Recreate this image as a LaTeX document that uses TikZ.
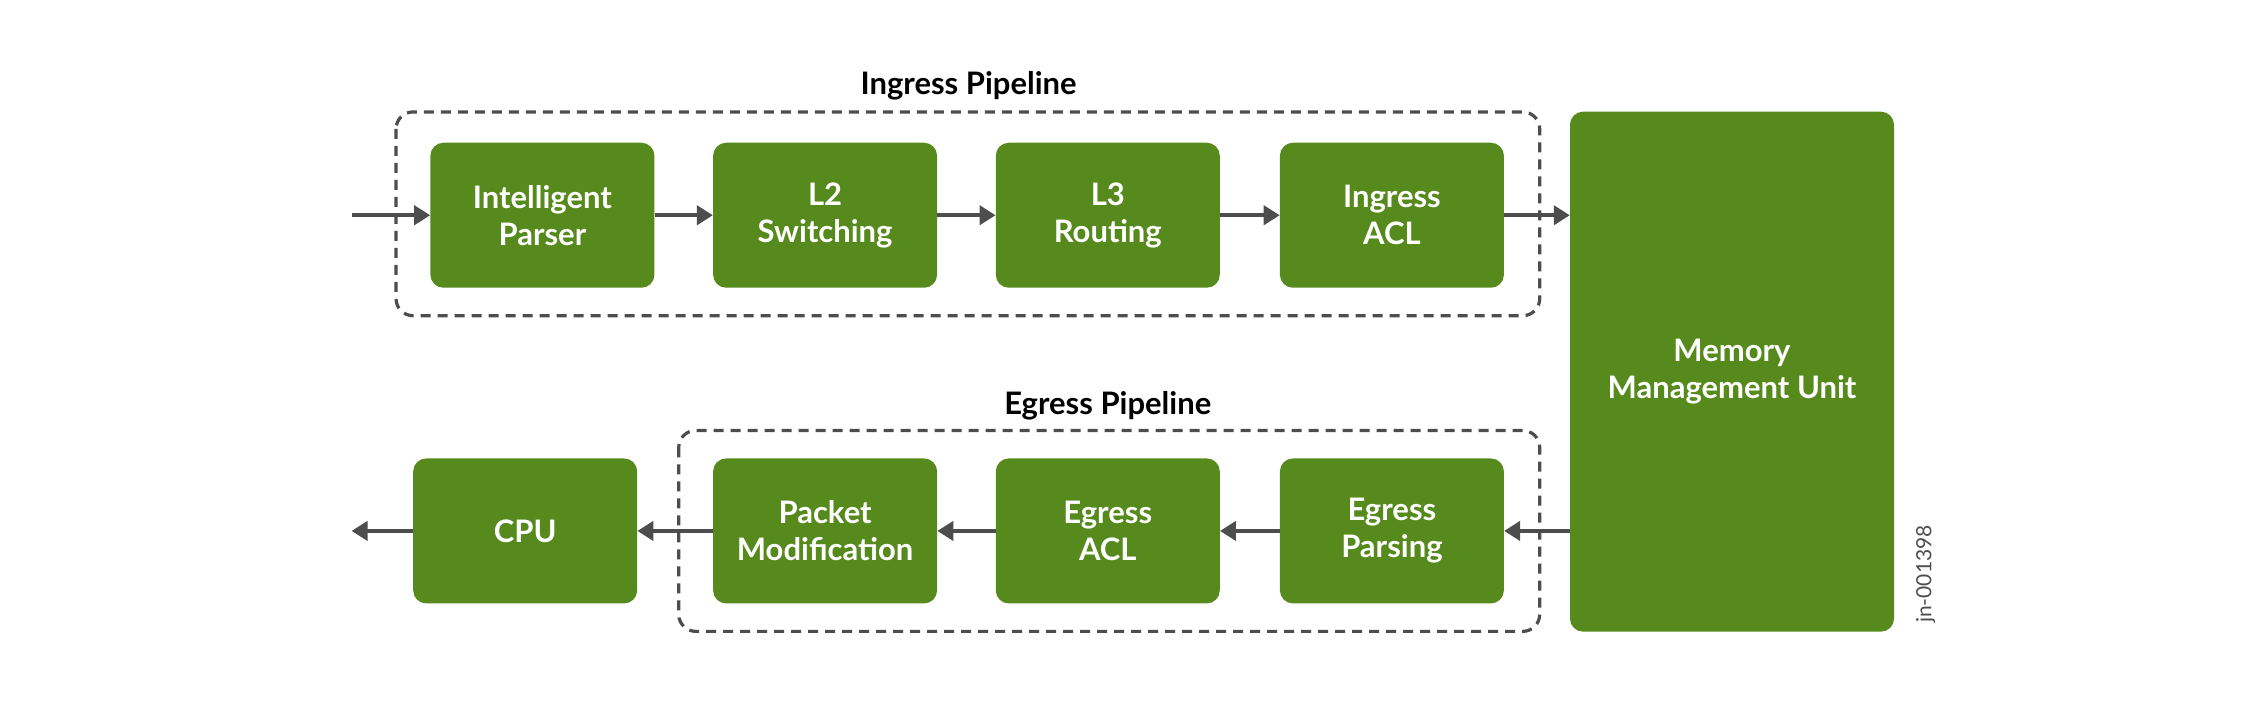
\documentclass[tikz,border=0pt]{standalone}
\usepackage{fontspec}
\setmainfont{Lato}
\usetikzlibrary{arrows.meta}
\definecolor{jgreen}{HTML}{578A1C}
\definecolor{jgray}{HTML}{4D4D4D}
\begin{document}
\begin{tikzpicture}[x=1.435pt,y=-1.435pt,
  blk/.style={fill=jgreen,rounded corners=13pt,text=white,font=\bfseries\fontsize{31}{37}\selectfont,align=center,minimum width=224pt,minimum height=145pt,inner sep=0pt},
  pipe/.style={draw=jgray,line width=3.2pt,dash pattern=on 10pt off 7pt,rounded corners=17pt},
  arr/.style={draw=jgray,line width=4.3pt,-{Triangle[length=16pt,width=19pt]}},
  ttl/.style={font=\bfseries\fontsize{31}{37}\selectfont,text=black}]
\useasboundingbox (0,0) rectangle (1568,490.6);
\draw[pipe] (276,78) rectangle (1073,220);
\draw[pipe] (473,300) rectangle (1073,440);
\node[ttl] (it) at (675,60) {Ingress Pipeline};
\node[ttl] (et) at (772,283) {Egress Pipeline};
\node[blk] (ip) at (378,150) {Intelligent\\Parser};
\node[blk] (l2) at (575,150) {L2\\Switching};
\node[blk] (l3) at (772,150) {L3\\Routing};
\node[blk] (ia) at (970,150) {Ingress\\ACL};
\node[blk,minimum width=324pt,minimum height=520pt] (mmu) at (1207,259) {Memory\\Management Unit};
\node[blk] (cpu) at (366,370) {CPU};
\node[blk] (pm) at (575,370) {Packet\\Modification};
\node[blk] (ea) at (772,370) {Egress\\ACL};
\node[blk] (ep) at (970,370) {Egress\\Parsing};
\coordinate (in) at (245,150);
\coordinate (out) at (245,370);
\draw[arr] (in) -- (ip.west);
\draw[arr] (ip) -- (l2);
\draw[arr] (l2) -- (l3);
\draw[arr] (l3) -- (ia);
\draw[arr] (ia.east) -- (ia.east -| mmu.west);
\draw[arr] (mmu.west |- ep.east) -- (ep.east);
\draw[arr] (ep) -- (ea);
\draw[arr] (ea) -- (pm);
\draw[arr] (pm) -- (cpu);
\draw[arr] (cpu.west) -- (out);
\node[rotate=90,text=jgray,font=\fontsize{21}{25}\selectfont] (id) at (1342,400) {jn-001398};
\end{tikzpicture}
\end{document}
